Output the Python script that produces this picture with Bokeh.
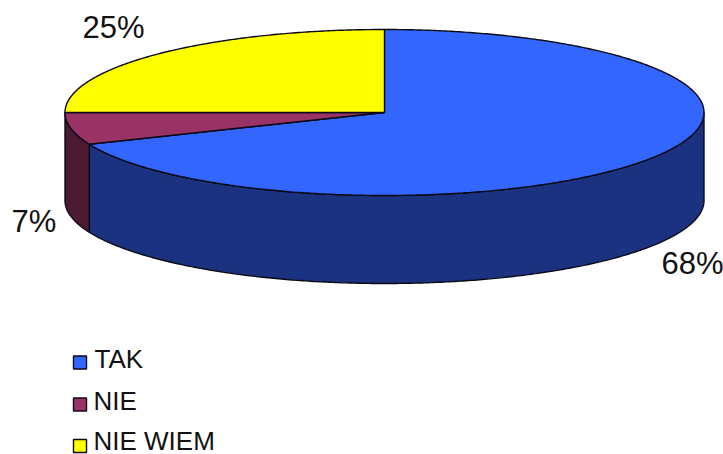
import numpy as np
from bokeh.plotting import figure
from bokeh.models import Range1d
from bokeh.core.properties import value
from bokeh.embed import file_html
from bokeh.resources import INLINE

categories = ["TAK", "NIE", "NIE WIEM"]
# slice sizes as drawn in the picture; the printed labels are kept separately
values = [68.75, 6.25, 25]
pct_labels = ["68%", "7%", "25%"]
top_colors = ["#3366ff", "#993366", "#ffff00"]
side_colors = ["#1a327f", "#4c1a33", "#7f7f00"]

CX, CY, RX, RY, DEPTH = 384, 112, 319.5, 83, 88
OUTLINE = "#0a0a14"
FONT = value("Liberation Sans")

p = figure(width=723, height=454, output_backend="svg", toolbar_location=None,
           x_range=Range1d(0, 723), y_range=Range1d(454, 0), min_border=0)
p.axis.visible = False
p.grid.visible = False
p.outline_line_color = None
p.background_fill_color = "white"


def rim(a0, a1, dy=0.0):
    """Points on the ellipse between two angles (degrees, clockwise from 12 o'clock)."""
    n = max(2, int(abs(a1 - a0) * 2))
    t = np.radians(np.linspace(a0, a1, n))
    return CX + RX * np.sin(t), CY - RY * np.cos(t) + dy


edges = np.concatenate([[0.0], np.cumsum(values)]) * 360.0 / sum(values)

# visible side walls: the front half of the rim (90..270 degrees clockwise from top)
for i in range(len(values)):
    a0, a1 = max(edges[i], 90.0), min(edges[i + 1], 270.0)
    if a1 <= a0:
        continue
    xt, yt = rim(a0, a1)
    xb, yb = rim(a1, a0, DEPTH)
    p.patch(list(xt) + list(xb), list(yt) + list(yb), fill_color=side_colors[i],
            line_color=OUTLINE, line_width=1.4)

# top faces
for i in range(len(values)):
    xt, yt = rim(edges[i], edges[i + 1])
    p.patch([CX] + list(xt), [CY] + list(yt), fill_color=top_colors[i],
            line_color=OUTLINE, line_width=1.4)

# percentage labels
label_x = [661, 11, 82]
label_y = [263, 221, 27]
p.text(label_x, label_y, text=pct_labels, text_font=FONT, text_font_size="31px",
       text_color="#111111", text_align="left", text_baseline="middle")

# legend
swatch_x = [79.5, 79.5, 79.5]
swatch_y = [362, 404, 445.5]
text_x = [94, 93, 93]
text_y = [358, 400, 440]
p.scatter(swatch_x, swatch_y, marker="square", size=13, fill_color=top_colors,
          line_color=OUTLINE, line_width=1.4)
p.text(text_x, text_y, text=categories, text_font=FONT, text_font_size="26px",
       text_color="#111111", text_align="left", text_baseline="middle")

open("out.html", "w").write(file_html(p, INLINE))
